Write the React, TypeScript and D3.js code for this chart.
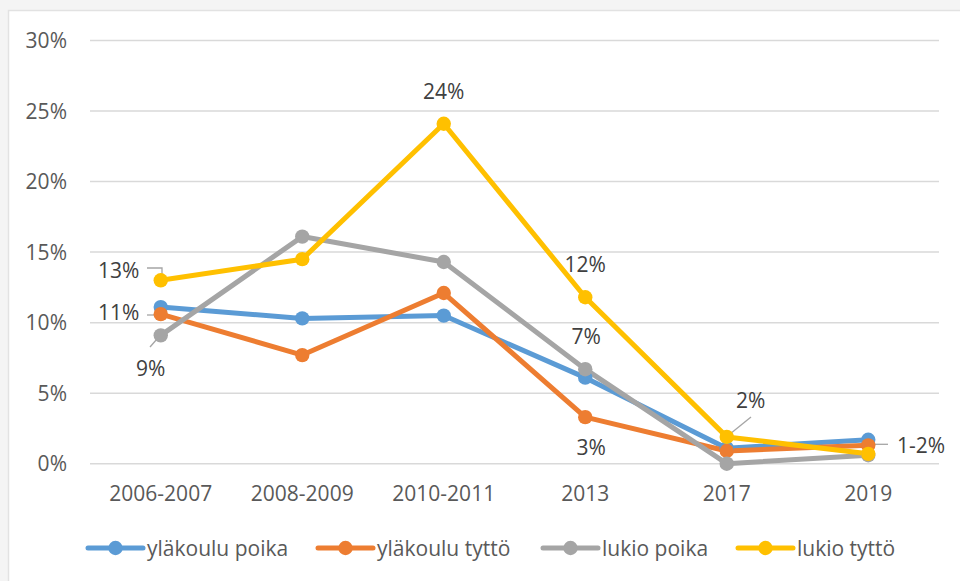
import React from "react";
import * as d3 from "d3";

const categories = ["2006-2007", "2008-2009", "2010-2011", "2013", "2017", "2019"];
const seriesNames = ["yläkoulu poika", "yläkoulu tyttö", "lukio poika", "lukio tyttö"];
const ylakouluPoika = [11.1, 10.3, 10.5, 6.1, 1.1, 1.7];
const ylakouluTytto = [10.6, 7.7, 12.1, 3.3, 0.9, 1.3];
const lukioPoika = [9.1, 16.1, 14.3, 6.7, 0.0, 0.6];
const lukioTytto = [13.0, 14.5, 24.1, 11.8, 1.9, 0.7];
const yTicks = [0, 5, 10, 15, 20, 25, 30];
const colors = ["#5B9BD5", "#ED7D31", "#A5A5A5", "#FFC000"];

// data labels: [seriesIndex, categoryIndex, text, dx, dy]
const dataLabels: [number, number, string, number, number][] = [
  [3, 0, "13%", -42, -10],
  [0, 0, "11%", -42, 5],
  [2, 0, "9%", -10, 33],
  [3, 2, "24%", 0, -32],
  [3, 3, "12%", 0, -33],
  [2, 3, "7%", 1, -33],
  [1, 3, "3%", 6, 30],
  [3, 4, "2%", 24, -36],
];

const W = 960;
const H = 581;
const FONT = "'Open Sans', sans-serif";
const FS = 21;

export default function App() {
  const allSeries = [ylakouluPoika, ylakouluTytto, lukioPoika, lukioTytto];
  const x = d3.scalePoint<string>().domain(categories).range([90, 939]).padding(0.5);
  const y = d3.scaleLinear().domain([0, 30]).range([463.7, 40.5]);
  const line = d3
    .line<number>()
    .x((_, i) => x(categories[i]) as number)
    .y((d) => y(d));

  const legendX = [88, 318, 543, 738];
  const legendY = 548;

  const px = (i: number) => x(categories[i]) as number;

  return (
    <div style={{ position: "absolute", left: 0, top: 0 }}>
      <svg width={W} height={H} style={{ display: "block" }}>
        <rect x={0} y={0} width={W} height={H} fill="#f4f4f4" />
        <rect x={8.5} y={10.5} width={W} height={H} fill="#ffffff" stroke="#e2e2e2" strokeWidth={1.5} />
        {yTicks.map((t) => (
          <g key={t}>
            <line x1={90} x2={939} y1={y(t)} y2={y(t)} stroke="#d9d9d9" strokeWidth={1.5} />
            <text
              x={67}
              y={y(t)}
              dy="0.36em"
              textAnchor="end"
              fontFamily={FONT}
              fontSize={FS}
              fill="#595959"
            >
              {t}%
            </text>
          </g>
        ))}
        {categories.map((c) => (
          <text
            key={c}
            x={x(c)}
            y={493}
            dy="0.36em"
            textAnchor="middle"
            fontFamily={FONT}
            fontSize={FS}
            fill="#595959"
          >
            {c}
          </text>
        ))}
        {/* leader lines */}
        <g stroke="#a5a5a5" strokeWidth={1.3} fill="none">
          <polyline points={`147,268 162,268 162,276`} />
          <line x1={147} x2={159} y1={315} y2={315} />
          <line x1={150} y1={347} x2={157} y2={339} />
          <line x1={751} y1={417} x2={730} y2={434} />
          <line x1={870} y1={444.3} x2={888} y2={444.3} />
        </g>
        {allSeries.map((s, si) => (
          <path
            key={si}
            d={line(s) || ""}
            fill="none"
            stroke={colors[si]}
            strokeWidth={5}
            strokeLinejoin="round"
          />
        ))}
        {allSeries.map((s, si) =>
          s.map((v, i) => (
            <circle key={`${si}-${i}`} cx={px(i)} cy={y(v)} r={7.2} fill={colors[si]} />
          ))
        )}
        {dataLabels.map(([si, ci, t, dx, dy], k) => (
          <text
            key={k}
            x={px(ci) + dx}
            y={y(allSeries[si][ci]) + dy}
            dy="0.36em"
            textAnchor="middle"
            fontFamily={FONT}
            fontSize={FS}
            fill="#404040"
          >
            {t}
          </text>
        ))}
        <text
          x={921}
          y={445.7}
          dy="0.36em"
          textAnchor="middle"
          fontFamily={FONT}
          fontSize={FS}
          fill="#404040"
        >
          1-2%
        </text>
        {seriesNames.map((n, i) => (
          <g key={n}>
            <line
              x1={legendX[i]}
              x2={legendX[i] + 55}
              y1={legendY}
              y2={legendY}
              stroke={colors[i]}
              strokeWidth={5}
              strokeLinecap="round"
            />
            <circle cx={legendX[i] + 27.5} cy={legendY} r={7.2} fill={colors[i]} />
            <text
              x={legendX[i] + 59}
              y={legendY}
              dy="0.36em"
              fontFamily={FONT}
              fontSize={FS}
              fill="#595959"
            >
              {n}
            </text>
          </g>
        ))}
      </svg>
    </div>
  );
}
